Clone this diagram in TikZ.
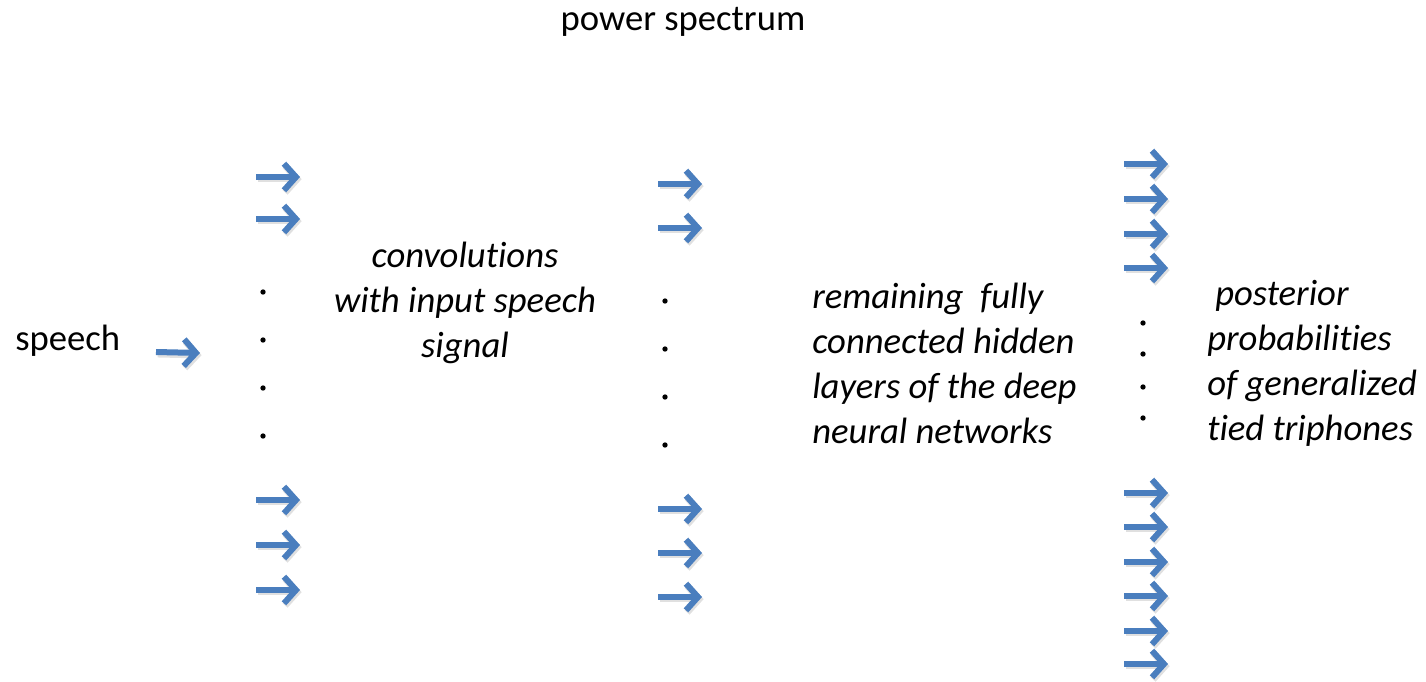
\documentclass[tikz,border=0pt]{standalone}
\usepackage{fontspec}
\setmainfont{Carlito}[Ligatures={NoCommon}]
\usetikzlibrary{arrows.meta}
\definecolor{arrowblue}{RGB}{74,126,190}
\newcommand{\nolig}{\kern0pt }
\tikzset{
  blarrow/.style={draw=arrowblue, line width=4.5pt,
    -{Straight Barb[length=9pt,width=20pt,line width=4.5pt]}},
  shadowarrow/.style={draw=black, opacity=0.12, line width=5pt,
    -{Straight Barb[length=9pt,width=20pt,line width=5pt]}},
  lbl/.style={inner sep=0pt, font=\fontsize{27.5}{33.6}\selectfont},
  ilbl/.style={lbl, font=\fontsize{27.5}{33.6}\selectfont\itshape},
  dotmark/.style={fill=black}
}
\newcommand{\myarrow}[2]{%
  \draw[shadowarrow, transform canvas={shift={(1.2pt,-1.6pt)}}] (#1) -- (#2);
  \draw[blarrow] (#1) -- (#2);}
\begin{document}
\begin{tikzpicture}[x=0.75pt,y=-0.75pt]
\useasboundingbox (0,0) rectangle (1426,681);
% titles
\node[lbl, anchor=base] (ps) at (683,31) {power spectrum};
\node[lbl, anchor=base west] (sp) at (15,350) {speech};
\coordinate (sps) at (156,352);
\coordinate (spe) at (200,353);
\myarrow{sps}{spe}
% column 1
\foreach \y [count=\i] in {177,219,500,545,590}{
  \coordinate (aS\i) at (256,\y);
  \coordinate (aE\i) at (300,\y);
  \myarrow{aS\i}{aE\i}
}
\foreach \y in {292,340,388,436}{
  \fill[dotmark] (263,\y) circle[radius=2pt];
}
% column 2
\foreach \y [count=\i] in {184,228,509,553,597}{
  \coordinate (bS\i) at (658,\y);
  \coordinate (bE\i) at (702,\y);
  \myarrow{bS\i}{bE\i}
}
\foreach \y in {301,349,397,445}{
  \fill[dotmark] (665,\y) circle[radius=2pt];
}
% column 3
\foreach \y [count=\i] in {164,199,234,268,493,527,562,596,631,664}{
  \coordinate (cS\i) at (1124,\y);
  \coordinate (cE\i) at (1168,\y);
  \myarrow{cS\i}{cE\i}
}
\foreach \y in {323,354,387,418}{
  \fill[dotmark] (1143,\y) circle[radius=2pt];
}
% texts
\node[ilbl, anchor=base] (t1a) at (465,267) {convolut\nolig ions};
\node[ilbl, anchor=base] (t1b) at (465,312) {with input speech};
\node[ilbl, anchor=base] (t1c) at (465,357) {signal};
\node[ilbl, anchor=base west] (t2a) at (812,308) {remaining\ \ fully};
\node[ilbl, anchor=base west] (t2b) at (812,353) {connected hidden};
\node[ilbl, anchor=base west] (t2c) at (812,398) {layers of the deep};
\node[ilbl, anchor=base west] (t2d) at (812,443) {neural networks};
\node[ilbl, anchor=base west] (t3a) at (1215,305) {posterior};
\node[ilbl, anchor=base west] (t3b) at (1207,350) {probabilit\nolig ies};
\node[ilbl, anchor=base west] (t3c) at (1207,395) {of generalized};
\node[ilbl, anchor=base west] (t3d) at (1207,440) {t\nolig ied triphones};
\end{tikzpicture}
\end{document}
